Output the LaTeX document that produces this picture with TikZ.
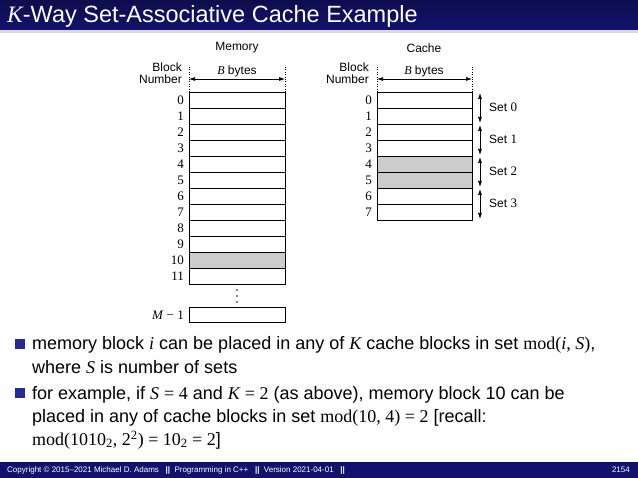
\documentclass[tikz,border=0pt]{standalone}
\usepackage{fontspec}
\setmainfont{Liberation Sans}
\newfontfamily\tms{Liberation Serif}
\usetikzlibrary{arrows.meta}
\definecolor{navy}{RGB}{18,18,110}
\definecolor{bul}{RGB}{40,40,150}
\tikzset{
  cell/.style={draw,line width=0.8pt},
  gcell/.style={draw,line width=0.8pt,fill=gray!40},
  num/.style={anchor=east,font=\tms\fontsize{13}{13}\selectfont,inner sep=0pt},
  lbl/.style={font=\fontsize{12}{11.5}\selectfont,inner sep=0pt},
  dim/.style={{Latex[length=6pt,width=4pt]}-{Latex[length=6pt,width=4pt]},line width=0.7pt},
  body/.style={anchor=west,font=\fontsize{18}{19}\selectfont,inner sep=0pt},
  bullet/.style={fill=bul,minimum size=10pt,inner sep=0pt}
}
\begin{document}
\begin{tikzpicture}[x=1pt,y=-1pt]
\useasboundingbox (0,0) rectangle (638,478);
\shade[top color=navy!70!black,bottom color=navy] (0,0) rectangle (638,30);
\fill[gray!30] (0,30) rectangle (638,33);
\node[anchor=west,text=white,font=\fontsize{23.5}{24}\selectfont,inner sep=0pt] (title) at (7,16) {\tms\itshape K\upshape\rmfamily-Way Set-Associative Cache Example};
% memory
\node[lbl] (memt) at (237,48) {Memory};
\node[lbl,align=right,anchor=east] (mbn) at (182,73) {Block\\Number};
\draw[dotted] (189,67) -- (189,92) (285,67) -- (285,92);
\coordinate (ma) at (189,79); \coordinate (mb) at (285,79);
\draw[dim] (ma) -- (mb);
\node[lbl] (mbb) at (237,71) {{\tms\itshape B} bytes};
\foreach \i in {0,...,11}{
  \ifnum\i=10 \draw[gcell] (189,92+16*\i) rectangle (285,108+16*\i);
  \else \draw[cell] (189,92+16*\i) rectangle (285,108+16*\i); \fi
  \node[num] (m\i) at (184,100+16*\i) {\i};
}
\foreach \y in {290,296,302} \fill (237,\y) circle (0.8pt);
\draw[cell] (189,307) rectangle (285,322);
\node[num] (mm) at (184,315) {\textit{M} − 1};
% cache
\node[lbl] (ct) at (424,48) {Cache};
\node[lbl,align=right,anchor=east] (cbn) at (369,73) {Block\\Number};
\draw[dotted] (377,67) -- (377,92) (472,67) -- (472,92);
\coordinate (ca) at (377,79); \coordinate (cb) at (472,79);
\draw[dim] (ca) -- (cb);
\node[lbl] (cbb) at (424,71) {{\tms\itshape B} bytes};
\foreach \i in {0,...,7}{
  \ifnum\i=4 \draw[gcell] (377,92+16*\i) rectangle (472,108+16*\i);
  \else\ifnum\i=5 \draw[gcell] (377,92+16*\i) rectangle (472,108+16*\i);
  \else \draw[cell] (377,92+16*\i) rectangle (472,108+16*\i); \fi\fi
  \node[num] (c\i) at (372,100+16*\i) {\i};
}
\foreach \s in {0,...,3}{
  \coordinate (s\s a) at (480,93+32*\s); \coordinate (s\s b) at (480,123+32*\s);
  \draw[dim] (s\s a) -- (s\s b);
  \node[lbl,anchor=west] (sl\s) at (489,107+32*\s) {Set {\tms\fontsize{13}{13}\selectfont\s}};
}
% bullets
\node[bullet] (b1) at (20,344) {};
\node[body] (t1) at (32,345) {memory block {\tms\itshape i} can be placed in any of {\tms\itshape K} cache blocks in set {\tms mod(\textit{i}, \textit{S})},};
\node[body] (t1b) at (32,367) {where {\tms\itshape S} is number of sets};
\node[bullet] (b2) at (20,393) {};
\node[body] (t2) at (32,395) {for example, if {\tms\itshape S} {\tms = 4} and {\tms\itshape K} {\tms = 2} (as above), memory block 10 can be};
\node[body] (t2b) at (32,418) {placed in any of cache blocks in set {\tms mod(10, 4) = 2} [recall:};
\node[body] (t2c) at (32,440) {{\tms mod(1010\textsubscript{2}, 2\textsuperscript{2}) = 10\textsubscript{2} = 2}]};
% footer
\fill[navy] (0,462) rectangle (638,478);
\node[anchor=west,text=white,font=\fontsize{8}{9}\selectfont,inner sep=0pt] (ft) at (7,470) {Copyright © 2015–2021 Michael D. Adams \ \ \textbf{||}\ \ Programming in C++ \ \ \textbf{||}\ \ Version 2021-04-01 \ \ \textbf{||}};
\node[anchor=east,text=white,font=\fontsize{8}{9}\selectfont,inner sep=0pt] (pg) at (630,470) {2154};
\end{tikzpicture}
\end{document}
